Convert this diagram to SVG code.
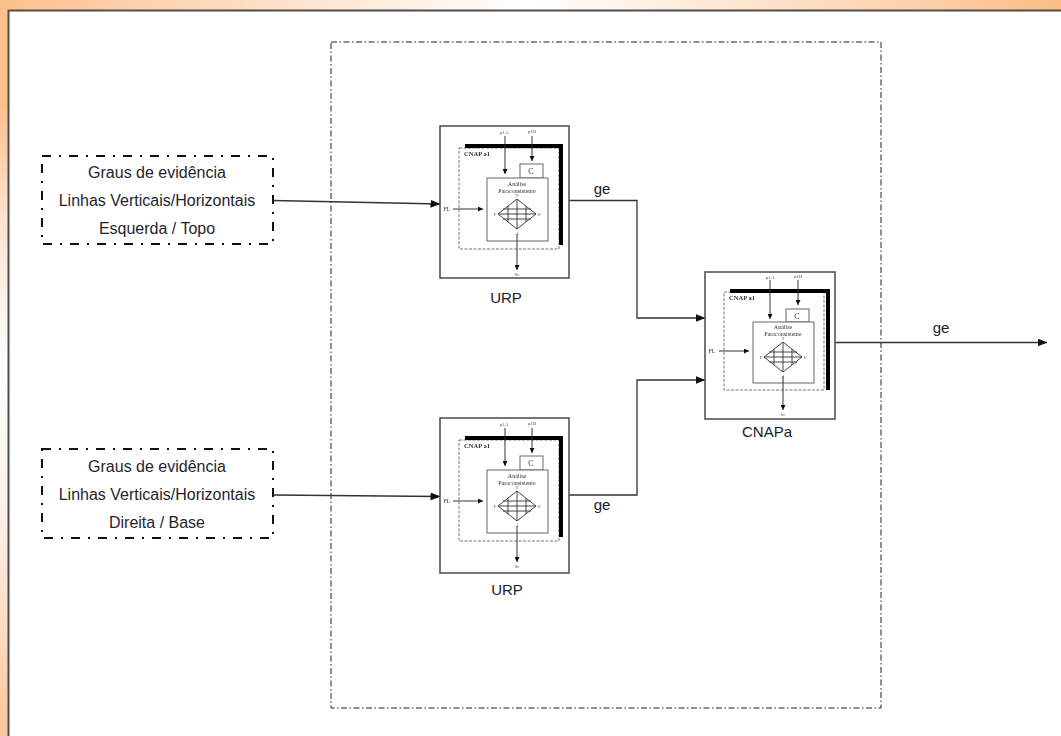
<svg xmlns="http://www.w3.org/2000/svg" width="1061" height="736" viewBox="0 0 1061 736">
<style>
.lbl{font-family:"Liberation Sans",Arial,sans-serif;font-size:16px;fill:#1f1f2e;text-anchor:middle}
.cap{font-family:"Liberation Sans",Arial,sans-serif;font-size:15px;fill:#1a1a2a;text-anchor:middle}
.t{font-family:"Liberation Serif","Times New Roman",serif;font-size:6px;fill:#333;text-anchor:middle}
.s{font-size:5px;fill:#555}
.b{font-weight:bold;font-size:6.5px}
.src{fill:#fff;stroke:#111;stroke-width:2;stroke-dasharray:9 8 2 8}
.sys{fill:none;stroke:#222;stroke-width:1;stroke-dasharray:6 2.500 1.500 2.500}
.box{fill:#fff;stroke:#555;stroke-width:1.6}
.in{fill:#fff;stroke:#666;stroke-width:1}
.dash{fill:none;stroke:#777;stroke-width:1;stroke-dasharray:3 1.500}
.thick{fill:none;stroke:#000;stroke-width:4}
.g{fill:none;stroke:#333;stroke-width:.9}
.conn{fill:none;stroke:#333;stroke-width:1.300}
.mc{fill:none;stroke:#333;stroke-width:1}
.ar{fill:#111}
</style>
<defs>
<linearGradient id="topg" x1="0" x2="1" y1="0" y2="0">
<stop offset="0" stop-color="#fdc08c"/><stop offset=".1" stop-color="#fdcda6"/><stop offset=".5" stop-color="#fff"/><stop offset=".85" stop-color="#fdd2ae"/><stop offset="1" stop-color="#fcbd85"/>
</linearGradient>
<linearGradient id="leftg" x1="0" x2="0" y1="0" y2="1">
<stop offset="0" stop-color="#fdc08c"/><stop offset=".14" stop-color="#fdc08c"/><stop offset=".3" stop-color="#fde3cf"/><stop offset=".5" stop-color="#fff"/><stop offset=".7" stop-color="#fef0e6"/><stop offset=".85" stop-color="#fedcc2"/><stop offset="1" stop-color="#fec596"/>
</linearGradient>
<filter id="soft" x="-5%" y="-5%" width="110%" height="110%"><feGaussianBlur stdDeviation=".45"/></filter>
<marker id="head" markerWidth="10" markerHeight="8" refX="9.500" refY="4" orient="auto" markerUnits="userSpaceOnUse"><path class="ar" d="M0 0L10 4L0 8Z"/></marker>
<marker id="mini" markerWidth="5" markerHeight="5" refX="5" refY="2.500" orient="auto" markerUnits="userSpaceOnUse"><path class="ar" d="M0 0L5 2.500L0 5Z"/></marker>
</defs>
<rect width="1061" height="10" fill="url(#topg)"/>
<rect width="8" height="736" fill="url(#leftg)"/>
<rect x="8.500" y="10.500" width="1060" height="740" fill="#fff" stroke="#4a4f55" stroke-width="2"/>
<rect id="system-boundary" class="sys" x="331" y="42" width="550" height="666"/>

<g id="connectors">
<path class="conn" marker-end="url(#head)" d="M273 200.500L440 204"/>
<path class="conn" marker-end="url(#head)" d="M273 495L440 496.500"/>
<path class="conn" marker-end="url(#head)" d="M569 200.500H637V318H705"/>
<path class="conn" marker-end="url(#head)" d="M569 495H637V380H705"/>
<path class="conn" marker-end="url(#head)" d="M835 342.500H1047"/>
</g>

<g id="source-top">
<rect class="src" x="42" y="156" width="231" height="88"/>
<text class="lbl" x="157" y="178">Graus de evidência</text>
<text class="lbl" x="157" y="206">Linhas Verticais/Horizontais</text>
<text class="lbl" x="157" y="234">Esquerda / Topo</text>
</g>
<g id="source-bottom">
<rect class="src" x="42" y="449" width="231" height="89"/>
<text class="lbl" x="157" y="472">Graus de evidência</text>
<text class="lbl" x="157" y="500">Linhas Verticais/Horizontais</text>
<text class="lbl" x="157" y="528">Direita / Base</text>
</g>

<g id="urp-top">
<rect class="box" x="440" y="126" width="129" height="152"/>
<g transform="translate(440 126)" filter="url(#soft)">
<rect class="dash" x="19" y="22" width="100" height="101"/>
<path class="thick" d="M25 20H121V119"/>
<text class="t b" x="37" y="30">CNAP a1</text>
<rect class="in" x="80" y="38" width="23" height="14"/>
<text class="t" x="91" y="48" style="font-size:8px">C</text>
<rect class="in" x="47" y="52" width="61" height="63"/>
<text class="t" x="77" y="60">Análise</text>
<text class="t" x="77" y="66.500">Paraconsistente</text>
<path class="g" d="M58 88L77 73L96 88L77 103ZM77 73V103M58 88H96M63 83H91M63 93H91M68 80V96M86 80V96"/>
<text class="t s" x="55" y="90">F</text><text class="t s" x="99" y="90">V</text><text class="t s" x="77" y="71">T</text><text class="t s" x="77" y="109">⊥</text>
<path class="mc" marker-end="url(#mini)" d="M65 10V48"/>
<path class="mc" marker-end="url(#mini)" d="M92 10V35"/>
<path class="mc" marker-end="url(#mini)" d="M13 83H43"/>
<path class="mc" marker-end="url(#mini)" d="M77 108V144"/>
<text class="t s" x="64" y="8">µ1A</text><text class="t s" x="92" y="7">µ1B</text>
<text class="t" x="7" y="85">FL</text><text class="t s" x="77" y="150">Sc</text>
</g>
<text class="cap" x="506" y="303">URP</text>
</g>

<g id="urp-bottom">
<rect class="box" x="440" y="418" width="129" height="155"/>
<g transform="translate(440 418)" filter="url(#soft)">
<rect class="dash" x="19" y="22" width="100" height="101"/>
<path class="thick" d="M25 20H121V119"/>
<text class="t b" x="37" y="30">CNAP a1</text>
<rect class="in" x="80" y="38" width="23" height="14"/>
<text class="t" x="91" y="48" style="font-size:8px">C</text>
<rect class="in" x="47" y="52" width="61" height="63"/>
<text class="t" x="77" y="60">Análise</text>
<text class="t" x="77" y="66.500">Paraconsistente</text>
<path class="g" d="M58 88L77 73L96 88L77 103ZM77 73V103M58 88H96M63 83H91M63 93H91M68 80V96M86 80V96"/>
<text class="t s" x="55" y="90">F</text><text class="t s" x="99" y="90">V</text><text class="t s" x="77" y="71">T</text><text class="t s" x="77" y="109">⊥</text>
<path class="mc" marker-end="url(#mini)" d="M65 10V48"/>
<path class="mc" marker-end="url(#mini)" d="M92 10V35"/>
<path class="mc" marker-end="url(#mini)" d="M13 83H43"/>
<path class="mc" marker-end="url(#mini)" d="M77 108V144"/>
<text class="t s" x="64" y="8">µ1A</text><text class="t s" x="92" y="7">µ1B</text>
<text class="t" x="7" y="85">FL</text><text class="t s" x="77" y="150">Sc</text>
</g>
<text class="cap" x="507" y="595">URP</text>
</g>

<g id="cnapa">
<rect class="box" x="705" y="272" width="130" height="147"/>
<g transform="translate(705 272)" filter="url(#soft)">
<rect class="dash" x="19" y="20" width="100" height="98"/>
<path class="thick" d="M25 19H123V118"/>
<text class="t b" x="37" y="28">CNAP a1</text>
<rect class="in" x="81" y="37" width="23" height="13"/>
<text class="t" x="92" y="47" style="font-size:8px">C</text>
<rect class="in" x="48" y="50" width="61" height="61"/>
<text class="t" x="78" y="57">Análise</text>
<text class="t" x="78" y="63.500">Paraconsistente</text>
<path class="g" d="M59 85L78 70L97 85L78 100ZM78 70V100M59 85H97M64 80H92M64 90H92M69 77V93M87 77V93"/>
<text class="t s" x="56" y="87">F</text><text class="t s" x="100" y="87">V</text><text class="t s" x="78" y="68">T</text><text class="t s" x="78" y="106">⊥</text>
<path class="mc" marker-end="url(#mini)" d="M65 8V47"/>
<path class="mc" marker-end="url(#mini)" d="M93 8V33"/>
<path class="mc" marker-end="url(#mini)" d="M14 79H44"/>
<path class="mc" marker-end="url(#mini)" d="M78 104V138"/>
<text class="t s" x="65" y="7">µ1A</text><text class="t s" x="93" y="6">µ1B</text>
<text class="t" x="7" y="81">FL</text><text class="t s" x="78" y="144">Sc</text>
</g>
<text class="cap" x="767" y="437">CNAPa</text>
</g>

<text class="cap" x="602" y="194">ge</text>
<text class="cap" x="602" y="510">ge</text>
<text class="cap" x="941" y="333">ge</text>
</svg>
